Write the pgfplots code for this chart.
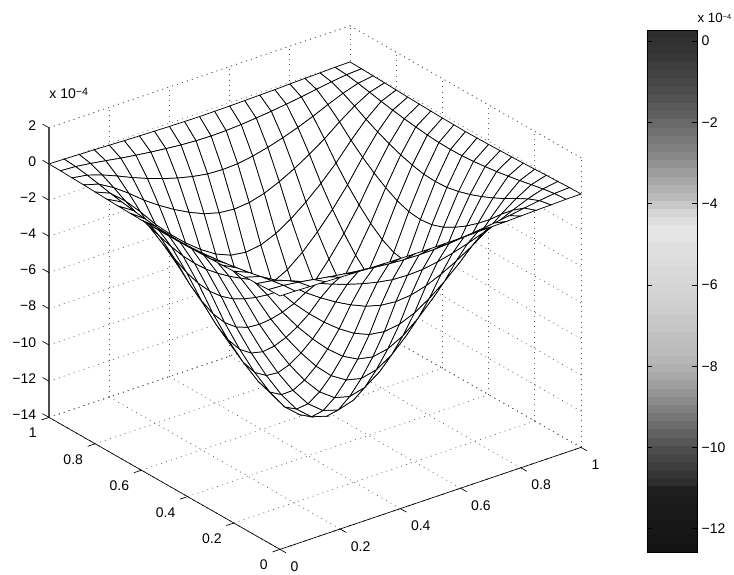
\documentclass[border=0pt]{standalone}
\usepackage{fontspec}
\setmainfont{Liberation Sans}
\usepackage{pgfplots}
\pgfplotsset{compat=1.18}
\begin{document}
\begin{tikzpicture}
\path[use as bounding box] (0,0) rectangle (550.5pt,430.5pt);
\begin{axis}[
  at={(210pt,208.5pt)}, anchor=origin,
  x={(225.75pt,76.5pt)}, y={(-173.25pt,99pt)}, z={(0pt,13.575pt)},
  xmin=0,xmax=1,ymin=0,ymax=1,zmin=-14,zmax=2,
  font=\fontsize{10.5pt}{12pt}\selectfont,
  xtick={0,0.2,0.4,0.6,0.8,1}, ytick={0,0.2,0.4,0.6,0.8,1},
  ztick={-14,-12,-10,-8,-6,-4,-2,0,2},
  xticklabels={0,0.2,0.4,0.6,0.8,1}, yticklabels={0,0.2,0.4,0.6,0.8,1},
  zticklabels={−14,−12,−10,−8,−6,−4,−2,0,2},
  xticklabel style={anchor=north west,inner sep=0pt,xshift=4.3pt,yshift=-7pt},
  yticklabel style={anchor=north east,inner sep=0pt,xshift=-5.2pt,yshift=-6.5pt},
  zticklabel style={anchor=east,inner sep=0pt,xshift=-6pt},
  grid=major, grid style={black!65,line width=0.5pt,dash pattern=on 0.7pt off 3.2pt},
  axis line style={black!65,line width=0.5pt,dash pattern=on 0.7pt off 3.2pt},
  tick style={draw=none},
  tick align=outside, major tick length=4pt,
  xtick pos=left, ytick pos=left, ztick pos=left,
  colormap={whitemap}{color=(white) color=(white)},
  clip=false,
]
\addplot3[surf,shader=faceted,faceted color=black,line width=0.55pt,mesh/rows=21] coordinates {
(0,0,0)(.05,0,-.01)(.1,0,-.04)(.15,0,-.06)(.2,0,-.09)(.25,0,-.12)(.3,0,-.14)(.35,0,-.16)(.4,0,-.18)(.45,0,-.19)(.5,0,-.2)(.55,0,-.19)(.6,0,-.18)(.65,0,-.16)(.7,0,-.14)(.75,0,-.12)(.8,0,-.09)(.85,0,-.06)(.9,0,-.04)(.95,0,-.01)(1,0,0)
(0,.05,-.01)(.05,.05,-.06)(.1,.05,-.17)(.15,.05,-.3)(.2,.05,-.44)(.25,.05,-.56)(.3,.05,-.67)(.35,.05,-.76)(.4,.05,-.84)(.45,.05,-.89)(.5,.05,-.91)(.55,.05,-.89)(.6,.05,-.84)(.65,.05,-.76)(.7,.05,-.67)(.75,.05,-.56)(.8,.05,-.44)(.85,.05,-.3)(.9,.05,-.17)(.95,.05,-.06)(1,.05,-.01)
(0,.1,-.04)(.05,.1,-.17)(.1,.1,-.44)(.15,.1,-.78)(.2,.1,-1.15)(.25,.1,-1.48)(.3,.1,-1.77)(.35,.1,-2.02)(.4,.1,-2.22)(.45,.1,-2.36)(.5,.1,-2.4)(.55,.1,-2.36)(.6,.1,-2.22)(.65,.1,-2.02)(.7,.1,-1.77)(.75,.1,-1.48)(.8,.1,-1.15)(.85,.1,-.78)(.9,.1,-.44)(.95,.1,-.17)(1,.1,-.04)
(0,.15,-.06)(.05,.15,-.3)(.1,.15,-.78)(.15,.15,-1.37)(.2,.15,-2.03)(.25,.15,-2.6)(.3,.15,-3.11)(.35,.15,-3.55)(.4,.15,-3.91)(.45,.15,-4.14)(.5,.15,-4.22)(.55,.15,-4.14)(.6,.15,-3.91)(.65,.15,-3.55)(.7,.15,-3.11)(.75,.15,-2.6)(.8,.15,-2.03)(.85,.15,-1.37)(.9,.15,-.78)(.95,.15,-.3)(1,.15,-.06)
(0,.2,-.09)(.05,.2,-.44)(.1,.2,-1.15)(.15,.2,-2.03)(.2,.2,-3)(.25,.2,-3.84)(.3,.2,-4.59)(.35,.2,-5.24)(.4,.2,-5.77)(.45,.2,-6.12)(.5,.2,-6.24)(.55,.2,-6.12)(.6,.2,-5.77)(.65,.2,-5.24)(.7,.2,-4.59)(.75,.2,-3.84)(.8,.2,-3)(.85,.2,-2.03)(.9,.2,-1.15)(.95,.2,-.44)(1,.2,-.09)
(0,.25,-.12)(.05,.25,-.56)(.1,.25,-1.48)(.15,.25,-2.6)(.2,.25,-3.84)(.25,.25,-4.92)(.3,.25,-5.88)(.35,.25,-6.72)(.4,.25,-7.4)(.45,.25,-7.84)(.5,.25,-8)(.55,.25,-7.84)(.6,.25,-7.4)(.65,.25,-6.72)(.7,.25,-5.88)(.75,.25,-4.92)(.8,.25,-3.84)(.85,.25,-2.6)(.9,.25,-1.48)(.95,.25,-.56)(1,.25,-.12)
(0,.3,-.14)(.05,.3,-.67)(.1,.3,-1.77)(.15,.3,-3.11)(.2,.3,-4.59)(.25,.3,-5.88)(.3,.3,-7.02)(.35,.3,-8.03)(.4,.3,-8.84)(.45,.3,-9.36)(.5,.3,-9.56)(.55,.3,-9.36)(.6,.3,-8.84)(.65,.3,-8.03)(.7,.3,-7.02)(.75,.3,-5.88)(.8,.3,-4.59)(.85,.3,-3.11)(.9,.3,-1.77)(.95,.3,-.67)(1,.3,-.14)
(0,.35,-.16)(.05,.35,-.76)(.1,.35,-2.02)(.15,.35,-3.55)(.2,.35,-5.24)(.25,.35,-6.72)(.3,.35,-8.03)(.35,.35,-9.17)(.4,.35,-10.1)(.45,.35,-10.7)(.5,.35,-10.92)(.55,.35,-10.7)(.6,.35,-10.1)(.65,.35,-9.17)(.7,.35,-8.03)(.75,.35,-6.72)(.8,.35,-5.24)(.85,.35,-3.55)(.9,.35,-2.02)(.95,.35,-.76)(1,.35,-.16)
(0,.4,-.18)(.05,.4,-.84)(.1,.4,-2.22)(.15,.4,-3.91)(.2,.4,-5.77)(.25,.4,-7.4)(.3,.4,-8.84)(.35,.4,-10.1)(.4,.4,-11.12)(.45,.4,-11.78)(.5,.4,-12.03)(.55,.4,-11.78)(.6,.4,-11.12)(.65,.4,-10.1)(.7,.4,-8.84)(.75,.4,-7.4)(.8,.4,-5.77)(.85,.4,-3.91)(.9,.4,-2.22)(.95,.4,-.84)(1,.4,-.18)
(0,.45,-.19)(.05,.45,-.89)(.1,.45,-2.36)(.15,.45,-4.14)(.2,.45,-6.12)(.25,.45,-7.84)(.3,.45,-9.36)(.35,.45,-10.7)(.4,.45,-11.78)(.45,.45,-12.49)(.5,.45,-12.74)(.55,.45,-12.49)(.6,.45,-11.78)(.65,.45,-10.7)(.7,.45,-9.36)(.75,.45,-7.84)(.8,.45,-6.12)(.85,.45,-4.14)(.9,.45,-2.36)(.95,.45,-.89)(1,.45,-.19)
(0,.5,-.2)(.05,.5,-.91)(.1,.5,-2.4)(.15,.5,-4.22)(.2,.5,-6.24)(.25,.5,-8)(.3,.5,-9.56)(.35,.5,-10.92)(.4,.5,-12.03)(.45,.5,-12.74)(.5,.5,-13)(.55,.5,-12.74)(.6,.5,-12.03)(.65,.5,-10.92)(.7,.5,-9.56)(.75,.5,-8)(.8,.5,-6.24)(.85,.5,-4.22)(.9,.5,-2.4)(.95,.5,-.91)(1,.5,-.2)
(0,.55,-.19)(.05,.55,-.89)(.1,.55,-2.36)(.15,.55,-4.14)(.2,.55,-6.12)(.25,.55,-7.84)(.3,.55,-9.36)(.35,.55,-10.7)(.4,.55,-11.78)(.45,.55,-12.49)(.5,.55,-12.74)(.55,.55,-12.49)(.6,.55,-11.78)(.65,.55,-10.7)(.7,.55,-9.36)(.75,.55,-7.84)(.8,.55,-6.12)(.85,.55,-4.14)(.9,.55,-2.36)(.95,.55,-.89)(1,.55,-.19)
(0,.6,-.18)(.05,.6,-.84)(.1,.6,-2.22)(.15,.6,-3.91)(.2,.6,-5.77)(.25,.6,-7.4)(.3,.6,-8.84)(.35,.6,-10.1)(.4,.6,-11.12)(.45,.6,-11.78)(.5,.6,-12.03)(.55,.6,-11.78)(.6,.6,-11.12)(.65,.6,-10.1)(.7,.6,-8.84)(.75,.6,-7.4)(.8,.6,-5.77)(.85,.6,-3.91)(.9,.6,-2.22)(.95,.6,-.84)(1,.6,-.18)
(0,.65,-.16)(.05,.65,-.76)(.1,.65,-2.02)(.15,.65,-3.55)(.2,.65,-5.24)(.25,.65,-6.72)(.3,.65,-8.03)(.35,.65,-9.17)(.4,.65,-10.1)(.45,.65,-10.7)(.5,.65,-10.92)(.55,.65,-10.7)(.6,.65,-10.1)(.65,.65,-9.17)(.7,.65,-8.03)(.75,.65,-6.72)(.8,.65,-5.24)(.85,.65,-3.55)(.9,.65,-2.02)(.95,.65,-.76)(1,.65,-.16)
(0,.7,-.14)(.05,.7,-.67)(.1,.7,-1.77)(.15,.7,-3.11)(.2,.7,-4.59)(.25,.7,-5.88)(.3,.7,-7.02)(.35,.7,-8.03)(.4,.7,-8.84)(.45,.7,-9.36)(.5,.7,-9.56)(.55,.7,-9.36)(.6,.7,-8.84)(.65,.7,-8.03)(.7,.7,-7.02)(.75,.7,-5.88)(.8,.7,-4.59)(.85,.7,-3.11)(.9,.7,-1.77)(.95,.7,-.67)(1,.7,-.14)
(0,.75,-.12)(.05,.75,-.56)(.1,.75,-1.48)(.15,.75,-2.6)(.2,.75,-3.84)(.25,.75,-4.92)(.3,.75,-5.88)(.35,.75,-6.72)(.4,.75,-7.4)(.45,.75,-7.84)(.5,.75,-8)(.55,.75,-7.84)(.6,.75,-7.4)(.65,.75,-6.72)(.7,.75,-5.88)(.75,.75,-4.92)(.8,.75,-3.84)(.85,.75,-2.6)(.9,.75,-1.48)(.95,.75,-.56)(1,.75,-.12)
(0,.8,-.09)(.05,.8,-.44)(.1,.8,-1.15)(.15,.8,-2.03)(.2,.8,-3)(.25,.8,-3.84)(.3,.8,-4.59)(.35,.8,-5.24)(.4,.8,-5.77)(.45,.8,-6.12)(.5,.8,-6.24)(.55,.8,-6.12)(.6,.8,-5.77)(.65,.8,-5.24)(.7,.8,-4.59)(.75,.8,-3.84)(.8,.8,-3)(.85,.8,-2.03)(.9,.8,-1.15)(.95,.8,-.44)(1,.8,-.09)
(0,.85,-.06)(.05,.85,-.3)(.1,.85,-.78)(.15,.85,-1.37)(.2,.85,-2.03)(.25,.85,-2.6)(.3,.85,-3.11)(.35,.85,-3.55)(.4,.85,-3.91)(.45,.85,-4.14)(.5,.85,-4.22)(.55,.85,-4.14)(.6,.85,-3.91)(.65,.85,-3.55)(.7,.85,-3.11)(.75,.85,-2.6)(.8,.85,-2.03)(.85,.85,-1.37)(.9,.85,-.78)(.95,.85,-.3)(1,.85,-.06)
(0,.9,-.04)(.05,.9,-.17)(.1,.9,-.44)(.15,.9,-.78)(.2,.9,-1.15)(.25,.9,-1.48)(.3,.9,-1.77)(.35,.9,-2.02)(.4,.9,-2.22)(.45,.9,-2.36)(.5,.9,-2.4)(.55,.9,-2.36)(.6,.9,-2.22)(.65,.9,-2.02)(.7,.9,-1.77)(.75,.9,-1.48)(.8,.9,-1.15)(.85,.9,-.78)(.9,.9,-.44)(.95,.9,-.17)(1,.9,-.04)
(0,.95,-.01)(.05,.95,-.06)(.1,.95,-.17)(.15,.95,-.3)(.2,.95,-.44)(.25,.95,-.56)(.3,.95,-.67)(.35,.95,-.76)(.4,.95,-.84)(.45,.95,-.89)(.5,.95,-.91)(.55,.95,-.89)(.6,.95,-.84)(.65,.95,-.76)(.7,.95,-.67)(.75,.95,-.56)(.8,.95,-.44)(.85,.95,-.3)(.9,.95,-.17)(.95,.95,-.06)(1,.95,-.01)
(0,1,0)(.05,1,-.01)(.1,1,-.04)(.15,1,-.06)(.2,1,-.09)(.25,1,-.12)(.3,1,-.14)(.35,1,-.16)(.4,1,-.18)(.45,1,-.19)(.5,1,-.2)(.55,1,-.19)(.6,1,-.18)(.65,1,-.16)(.7,1,-.14)(.75,1,-.12)(.8,1,-.09)(.85,1,-.06)(.9,1,-.04)(.95,1,-.01)(1,1,0)
};
\draw[black,line width=0.5pt] (axis cs:0,0,-14) -- (axis cs:1,0,-14);
\draw[black,line width=0.5pt] (axis cs:0,0,-14) -- (axis cs:0,1,-14);
\draw[black!70,line width=0.9pt] (axis cs:0,1,-14) -- (axis cs:0,1,2);
\pgfplotsinvokeforeach{0,0.2,0.4,0.6,0.8,1}{
  \draw[black,line width=0.5pt] (axis cs:#1,0,-14) -- (axis cs:#1,-.026,-14);
  \draw[black,line width=0.5pt] (axis cs:0,#1,-14) -- (axis cs:-.025,#1,-14);
}
\pgfplotsinvokeforeach{-14,-12,-10,-8,-6,-4,-2,0,2}{
  \draw[black,line width=0.5pt] (axis cs:0,1,#1) -- (axis cs:0,1.028,#1);
}
\end{axis}
\node[font=\fontsize{10.5pt}{12pt}\selectfont,anchor=west] at (33.5pt,360.5pt) {x 10\raisebox{0.5ex}{\fontsize{8pt}{8pt}\selectfont −4}};
\begin{axis}[
  at={(485.25pt,16.5pt)}, anchor=south west,
  scale only axis, width=37.5pt, height=391.5pt,
  xmin=0,xmax=1,ymin=-12.57,ymax=0.27,
  font=\fontsize{10.5pt}{12pt}\selectfont,
  xtick=\empty,
  ytick={-12,-10,-8,-6,-4,-2,0},
  yticklabels={−12,−10,−8,−6,−4,−2,0},
  ytick pos=both, yticklabel pos=right,
  tick align=inside, major tick length=4pt,
  tick style={black,line width=0.5pt},
  axis line style={black,line width=0.7pt},
  colormap/blackwhite, point meta min=0, point meta max=1,
  axis on top,
]
\addplot[surf,shader=flat corner,mesh/cols=2,point meta=explicit] table[row sep=\\,x=x,y=y,meta=c] {
x y c\\
0 .27 .18\\1 .27 .18\\0 .069 .19\\1 .069 .19\\0 -.131 .20\\1 -.131 .20\\0 -.332 .22\\1 -.332 .22\\0 -.533 .24\\1 -.533 .24\\0 -.733 .26\\1 -.733 .26\\0 -.934 .28\\1 -.934 .28\\0 -1.134 .30\\1 -1.134 .30\\0 -1.335 .32\\1 -1.335 .32\\0 -1.536 .35\\1 -1.536 .35\\0 -1.736 .37\\1 -1.736 .37\\0 -1.937 .41\\1 -1.937 .41\\0 -2.138 .44\\1 -2.138 .44\\0 -2.338 .47\\1 -2.338 .47\\0 -2.539 .50\\1 -2.539 .50\\0 -2.739 .53\\1 -2.739 .53\\0 -2.94 .57\\1 -2.94 .57\\0 -3.141 .61\\1 -3.141 .61\\0 -3.341 .65\\1 -3.341 .65\\0 -3.542 .69\\1 -3.542 .69\\0 -3.743 .73\\1 -3.743 .73\\0 -3.943 .78\\1 -3.943 .78\\0 -4.144 .83\\1 -4.144 .83\\0 -4.344 .87\\1 -4.344 .87\\0 -4.545 .89\\1 -4.545 .89\\0 -4.746 .89\\1 -4.746 .89\\0 -4.946 .87\\1 -4.946 .87\\0 -5.147 .87\\1 -5.147 .87\\0 -5.348 .86\\1 -5.348 .86\\0 -5.548 .85\\1 -5.548 .85\\0 -5.749 .84\\1 -5.749 .84\\0 -5.949 .83\\1 -5.949 .83\\0 -6.15 .82\\1 -6.15 .82\\0 -6.351 .81\\1 -6.351 .81\\0 -6.551 .80\\1 -6.551 .80\\0 -6.752 .78\\1 -6.752 .78\\0 -6.953 .77\\1 -6.953 .77\\0 -7.153 .75\\1 -7.153 .75\\0 -7.354 .74\\1 -7.354 .74\\0 -7.554 .73\\1 -7.554 .73\\0 -7.755 .71\\1 -7.755 .71\\0 -7.956 .69\\1 -7.956 .69\\0 -8.156 .66\\1 -8.156 .66\\0 -8.357 .62\\1 -8.357 .62\\0 -8.558 .58\\1 -8.558 .58\\0 -8.758 .54\\1 -8.758 .54\\0 -8.959 .50\\1 -8.959 .50\\0 -9.159 .46\\1 -9.159 .46\\0 -9.36 .42\\1 -9.36 .42\\0 -9.561 .38\\1 -9.561 .38\\0 -9.761 .34\\1 -9.761 .34\\0 -9.962 .30\\1 -9.962 .30\\0 -10.163 .27\\1 -10.163 .27\\0 -10.363 .24\\1 -10.363 .24\\0 -10.564 .21\\1 -10.564 .21\\0 -10.764 .18\\1 -10.764 .18\\0 -10.965 .12\\1 -10.965 .12\\0 -11.166 .11\\1 -11.166 .11\\0 -11.366 .10\\1 -11.366 .10\\0 -11.567 .10\\1 -11.567 .10\\0 -11.768 .09\\1 -11.768 .09\\0 -11.968 .09\\1 -11.968 .09\\0 -12.169 .08\\1 -12.169 .08\\0 -12.369 .07\\1 -12.369 .07\\0 -12.57 .07\\1 -12.57 .07\\
};
\end{axis}
\node[font=\fontsize{10pt}{12pt}\selectfont,anchor=west,inner sep=0pt] at (523pt,417pt) {x 10\raisebox{0.5ex}{\fontsize{5.5pt}{6pt}\selectfont −4}};
\end{tikzpicture}
\end{document}
